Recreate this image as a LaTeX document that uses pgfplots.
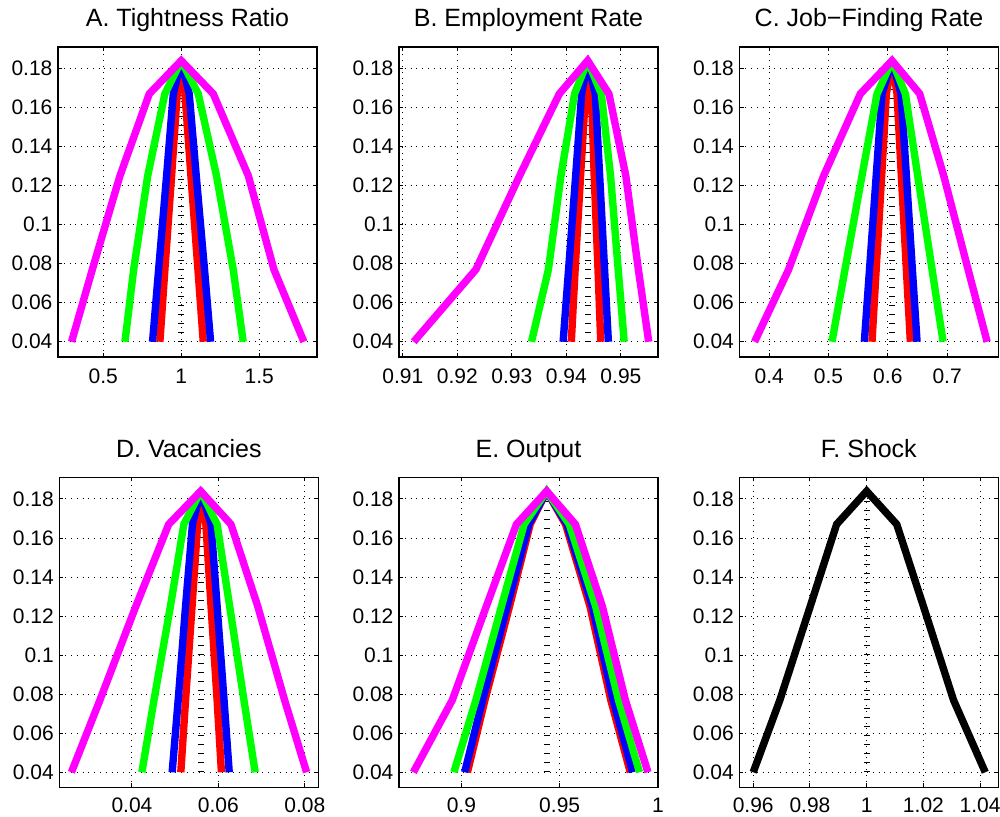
\documentclass[border=0pt]{standalone}
\usepackage{fontspec}
\setmainfont{Liberation Sans}
\usepackage{pgfplots}
\pgfplotsset{compat=1.18}
\definecolor{mag}{rgb}{1,0,1}
\definecolor{grn}{rgb}{0,1,0}
\definecolor{blu}{rgb}{0,0,1}
\definecolor{rd}{rgb}{1,0,0}

\pgfplotsset{
  panel/.style={
    scale only axis, width=129.5pt, height=155pt, anchor=south west,
    ymin=0.0322, ymax=0.191,
    ytick={0.04,0.06,0.08,0.1,0.12,0.14,0.16,0.18},
    yticklabels={0.04,0.06,0.08,0.1,0.12,0.14,0.16,0.18},
    grid=major,
    major grid style={black, line width=0.5pt, dash pattern=on 0.5pt off 2.4pt},
    tick align=inside, major tick length=2pt,
    tick style={black, line width=0.5pt},
    axis line style={line width=0.6pt},
    ticklabel style={font=\fontsize{10.5}{12}\selectfont},
    yticklabel style={inner sep=2.6pt},
    xticklabel style={yshift=-2.4pt},
    title style={font=\fontsize{12.5}{14}\selectfont, at={(0.5,1)}, anchor=base, yshift=4pt},
  },
  lowrow/.style={xticklabel style={yshift=0.6pt}},
  ser/.style={line width=3.7pt, color=#1, mark=none, line join=miter, miter limit=2},
  ctr/.style={black, line width=3pt, dash pattern=on 0.5pt off 4pt, mark=none},
}

\begin{document}
\begin{tikzpicture}
\useasboundingbox (0,0) rectangle (500pt,408.5pt);

% A
\begin{axis}[panel, at={(29pt,230pt)}, title={A. Tightness Ratio},
  xmin=0.21, xmax=1.87, xtick={0.5,1,1.5}, xticklabels={0.5,1,1.5}]
\addplot[ctr] coordinates {(1,0.04) (1,0.184)};
\addplot[ser=rd] coordinates {(0.863,0.04) (0.895,0.077) (0.938,0.125) (0.974,0.167) (1.0,0.184) (1.024,0.167) (1.062,0.125) (1.107,0.077) (1.141,0.04)};
\addplot[ser=blu] coordinates {(0.816,0.04) (0.855,0.077) (0.906,0.125) (0.949,0.167) (1.0,0.184) (1.051,0.167) (1.096,0.125) (1.149,0.077) (1.188,0.04)};
\addplot[ser=grn] coordinates {(0.639,0.04) (0.695,0.077) (0.785,0.125) (0.895,0.167) (1.0,0.184) (1.109,0.167) (1.226,0.125) (1.333,0.077) (1.397,0.04)};
\addplot[ser=mag] coordinates {(0.297,0.04) (0.43,0.077) (0.607,0.125) (0.795,0.167) (1.0,0.184) (1.205,0.167) (1.43,0.125) (1.594,0.077) (1.786,0.04)};
\end{axis}

% B
\begin{axis}[panel, at={(199.5pt,230pt)}, title={B. Employment Rate},
  xmin=0.9093, xmax=0.9568, xtick={0.91,0.92,0.93,0.94,0.95}, xticklabels={0.91,0.92,0.93,0.94,0.95}]
\addplot[ctr] coordinates {(0.9439,0.04) (0.9439,0.184)};
\addplot[ser=rd] coordinates {(0.9409,0.04) (0.9416,0.077) (0.9426,0.125) (0.9435,0.167) (0.9439,0.184) (0.9446,0.167) (0.9451,0.125) (0.9458,0.077) (0.9463,0.04)};
\addplot[ser=blu] coordinates {(0.9394,0.04) (0.9404,0.077) (0.9417,0.125) (0.9428,0.167) (0.9439,0.184) (0.9453,0.167) (0.9461,0.125) (0.9470,0.077) (0.9477,0.04)};
\addplot[ser=grn] coordinates {(0.9336,0.04) (0.9367,0.077) (0.9390,0.125) (0.9415,0.167) (0.9439,0.184) (0.9464,0.167) (0.9481,0.125) (0.9495,0.077) (0.9506,0.04)};
\addplot[ser=mag] coordinates {(0.9120,0.04) (0.9234,0.077) (0.9314,0.125) (0.9387,0.167) (0.9439,0.184) (0.9478,0.167) (0.9509,0.125) (0.9532,0.077) (0.9551,0.04)};
\end{axis}

% C
\begin{axis}[panel, at={(369.75pt,230pt)}, title={C. Job−Finding Rate},
  xmin=0.3498, xmax=0.7867, xtick={0.4,0.5,0.6,0.7}, xticklabels={0.4,0.5,0.6,0.7}]
\addplot[ctr] coordinates {(0.6071,0.04) (0.6071,0.184)};
\addplot[ser=rd] coordinates {(0.5733,0.04) (0.5803,0.077) (0.5896,0.125) (0.5975,0.167) (0.6071,0.184) (0.6155,0.167) (0.6228,0.125) (0.6313,0.077) (0.6380,0.04)};
\addplot[ser=blu] coordinates {(0.5604,0.04) (0.5691,0.077) (0.5804,0.125) (0.5902,0.167) (0.6071,0.184) (0.6223,0.167) (0.6313,0.125) (0.6414,0.077) (0.6493,0.04)};
\addplot[ser=grn] coordinates {(0.5058,0.04) (0.5277,0.077) (0.5564,0.125) (0.5818,0.167) (0.6071,0.184) (0.6296,0.167) (0.6504,0.125) (0.6746,0.077) (0.6932,0.04)};
\addplot[ser=mag] coordinates {(0.3752,0.04) (0.4326,0.077) (0.4917,0.125) (0.5536,0.167) (0.6071,0.184) (0.6538,0.167) (0.6943,0.125) (0.7354,0.077) (0.7675,0.04)};
\end{axis}

% D
\begin{axis}[panel, lowrow, at={(29.65pt,14.75pt)}, title={D. Vacancies},
  xmin=0.0232, xmax=0.0831, xtick={0.04,0.06,0.08}, xticklabels={0.04,0.06,0.08}]
\addplot[ctr] coordinates {(0.0559,0.04) (0.0559,0.184)};
\addplot[ser=rd] coordinates {(0.0513,0.04) (0.0524,0.077) (0.0539,0.125) (0.0552,0.167) (0.0559,0.184) (0.0571,0.167) (0.0583,0.125) (0.0597,0.077) (0.0607,0.04)};
\addplot[ser=blu] coordinates {(0.0493,0.04) (0.0507,0.077) (0.0524,0.125) (0.0540,0.167) (0.0559,0.184) (0.0583,0.167) (0.0597,0.125) (0.0613,0.077) (0.0625,0.04)};
\addplot[ser=grn] coordinates {(0.0423,0.04) (0.0451,0.077) (0.0489,0.125) (0.0520,0.167) (0.0559,0.184) (0.0597,0.167) (0.0626,0.125) (0.0659,0.077) (0.0685,0.04)};
\addplot[ser=mag] coordinates {(0.0260,0.04) (0.0326,0.077) (0.0409,0.125) (0.0485,0.167) (0.0559,0.184) (0.0629,0.167) (0.0691,0.125) (0.0753,0.077) (0.0804,0.04)};
\end{axis}

% E
\begin{axis}[panel, lowrow, at={(199.5pt,14.75pt)}, title={E. Output},
  xmin=0.8683, xmax=1.0, xtick={0.9,0.95,1}, xticklabels={0.9,0.95,1}]
\addplot[ctr] coordinates {(0.9434,0.04) (0.9434,0.184)};
\addplot[ser=rd] coordinates {(0.9031,0.04) (0.9120,0.077) (0.9245,0.125) (0.9350,0.167) (0.9434,0.184) (0.9530,0.167) (0.9654,0.125) (0.9760,0.077) (0.9859,0.04)};
\addplot[ser=blu] coordinates {(0.9017,0.04) (0.9108,0.077) (0.9233,0.125) (0.9343,0.167) (0.9434,0.184) (0.9537,0.167) (0.9666,0.125) (0.9772,0.077) (0.9871,0.04)};
\addplot[ser=grn] coordinates {(0.8962,0.04) (0.9074,0.077) (0.9204,0.125) (0.9319,0.167) (0.9434,0.184) (0.9549,0.167) (0.9683,0.125) (0.9799,0.077) (0.9906,0.04)};
\addplot[ser=mag] coordinates {(0.8756,0.04) (0.8954,0.077) (0.9127,0.125) (0.9280,0.167) (0.9434,0.184) (0.9580,0.167) (0.9717,0.125) (0.9834,0.077) (0.9949,0.04)};
\end{axis}

% F
\begin{axis}[panel, lowrow, at={(369.65pt,14.75pt)}, title={F. Shock},
  xmin=0.9551, xmax=1.0464, xtick={0.96,0.98,1,1.02,1.04}, xticklabels={0.96,0.98,1,1.02,1.04}]
\addplot[ctr] coordinates {(1.0,0.04) (1.0,0.184)};
\addplot[ser=black] coordinates {(0.9600,0.04) (0.9694,0.077) (0.9801,0.125) (0.9894,0.167) (1.0,0.184) (1.0106,0.167) (1.0200,0.125) (1.0306,0.077) (1.0418,0.04)};
\end{axis}
\end{tikzpicture}
\end{document}
